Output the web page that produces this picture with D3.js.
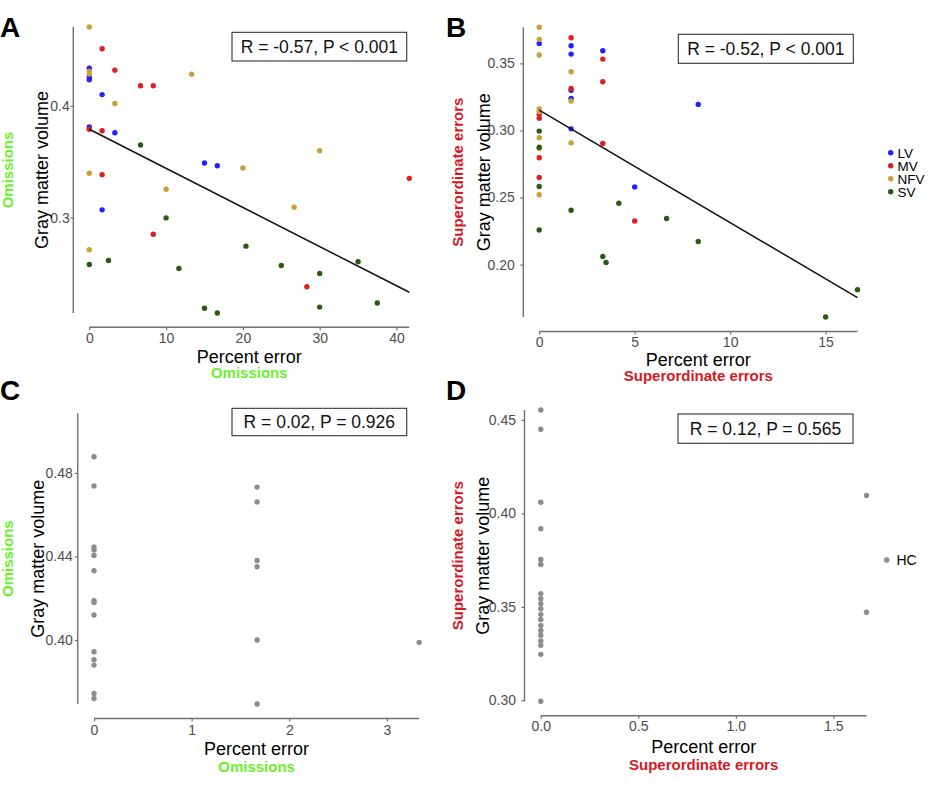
<!DOCTYPE html>
<html><head><meta charset="utf-8">
<script src="https://cdn.jsdelivr.net/npm/d3@7"></script>
<style>
body{margin:0;background:#fff}
svg{display:block}
text{font-family:"Liberation Sans",Arial,Helvetica,sans-serif}
</style>
</head><body>
<svg id="chart" width="949" height="798"></svg>
<script>
// ---------------- DATA ----------------
const groupNames  = ["LV", "MV", "NFV", "SV"];
const groupColors = ["#2121ff", "#dc1f1f", "#c9a03a", "#2b5a15"];
const hcName = "HC";
const hcColor = "#8c8c8c";

// Panel A: Omissions (percent error) vs gray matter volume, patient groups
const omissionsLV  = [[0,0.4337],[0,0.4256],[0,0.4232],[1.67,0.410],[0,0.381],[3.33,0.3759],[15,0.3488],[16.67,0.3464],[1.67,0.3069]];
const omissionsMV  = [[1.67,0.451],[3.33,0.4319],[6.67,0.418],[8.33,0.418],[0,0.379],[1.67,0.3777],[1.67,0.3384],[8.33,0.2851],[41.67,0.3351],[28.33,0.2381]];
const omissionsNFV = [[0,0.4705],[0,0.431],[0,0.4285],[13.33,0.4283],[3.33,0.402],[0,0.3396],[10,0.3253],[0,0.2712],[20,0.3444],[30,0.3598],[26.67,0.3092]];
const omissionsSV  = [[6.67,0.3649],[10,0.2997],[0,0.258],[2.5,0.2616],[11.67,0.2545],[15,0.2188],[16.67,0.2146],[20.4,0.2744],[25,0.2571],[30,0.250],[35,0.2604],[30,0.2199],[37.5,0.2235]];

// Panel B: Superordinate errors vs gray matter volume, patient groups
const superordLV  = [[0,0.3649],[1.67,0.3631],[1.67,0.3569],[1.67,0.330],[1.67,0.3239],[1.67,0.3012],[3.33,0.3594],[5,0.2579],[8.33,0.3194]];
const superordMV  = [[0,0.3119],[0,0.309],[0,0.2796],[0,0.2649],[1.67,0.3691],[1.67,0.3313],[3.33,0.3532],[3.33,0.3363],[3.33,0.2903],[5,0.2325]];
const superordNFV = [[0,0.3769],[0,0.3679],[0,0.3562],[0,0.3161],[0,0.314],[0,0.2945],[0,0.2865],[0,0.252],[1.67,0.3437],[1.67,0.3219],[1.67,0.2907]];
const superordSV  = [[0,0.2995],[0,0.2875],[0,0.2582],[0,0.2258],[1.67,0.2405],[3.33,0.206],[3.5,0.2015],[4.17,0.2457],[6.67,0.2343],[8.33,0.2172],[15,0.1609],[16.67,0.1813]];

// Panel C: Omissions, healthy controls
const hcOmissions = [[0,0.4877],[0,0.4737],[0,0.4445],[0,0.4431],[0,0.4405],[0,0.4332],[0,0.4188],[0,0.418],[0,0.412],[0,0.3944],[0,0.3906],[0,0.388],[0,0.3744],[0,0.372],
                     [1.67,0.4732],[1.67,0.4661],[1.67,0.4381],[1.67,0.4351],[1.67,0.4000],[1.67,0.3694],[3.33,0.3989]];
// Panel D: Superordinate errors, healthy controls
const hcSuperord = [[0,0.4553],[0,0.445],[0,0.406],[0,0.3918],[0,0.3753],[0,0.3727],[0,0.3571],[0,0.3544],[0,0.3517],[0,0.349],[0,0.346],[0,0.3432],[0,0.3401],[0,0.3374],[0,0.3348],[0,0.3317],[0,0.3294],[0,0.3246],[0,0.2995],
                    [1.67,0.4096],[1.67,0.3471]];

// Tick values
const xTicksA = [0,10,20,30,40],   yTicksA = [0.3,0.4];
const xTicksB = [0,5,10,15],       yTicksB = [0.20,0.25,0.30,0.35];
const xTicksC = [0,1,2,3],         yTicksC = [0.40,0.44,0.48];
const xTicksD = [0,0.5,1.0,1.5],   yTicksD = [0.30,0.35,0.40,0.45];

// Correlation annotations and their y positions (data units)
const statTexts  = ["R = -0.57, P < 0.001", "R = -0.52, P < 0.001", "R = 0.02, P = 0.926", "R = 0.12, P = 0.565"];
const statLabelY = [0.453, 0.361, 0.5085, 0.445];

// Linear fits [intercept, slope]
const fitA = [0.379, -0.0035];
const fitB = [0.3151, -0.00838];

const xTitle = "Percent error";
const yTitle = "Gray matter volume";
const subOmissions = "Omissions";
const subSuperord = "Superordinate errors";
const greenSub = "#6cf02c";
const redSub = "#d7191f";

// ---------------- LAYOUT ----------------
const svg = d3.select("#chart");

const panels = [
  { letter:"A", letterPos:[0,37],
    series: groupNames.map((g,i)=>({color:groupColors[i], pts:[omissionsLV,omissionsMV,omissionsNFV,omissionsSV][i]})),
    xTicks:xTicksA, yTicks:yTicksA, xFmt:d3.format("d"), yFmt:d3.format(".1f"),
    fit:fitA, stat:0, sub:subOmissions, subColor:greenSub,
    rect:{l:73.3,r:425.3,t:12.7,b:327.3},
    yTitleX:48, ySubX:13, xTitleY:362.5, xSubY:378, yGap:0.5, xLabY:15.5,
    box:[232,32.3,406.7,61] },
  { letter:"B", letterPos:[446,37],
    series: groupNames.map((g,i)=>({color:groupColors[i], pts:[superordLV,superordMV,superordNFV,superordSV][i]})),
    xTicks:xTicksB, yTicks:yTicksB, xFmt:d3.format("d"), yFmt:d3.format(".2f"),
    fit:fitB, stat:1, sub:subSuperord, subColor:redSub,
    rect:{l:523.3,r:873.4,t:12.8,b:331.5},
    yTitleX:490, ySubX:462.5, xTitleY:366, xSubY:380.5, yGap:5.5, xLabY:15,
    box:[678.3,34.3,853.3,63.3] },
  { letter:"C", letterPos:[0,400],
    series:[{color:hcColor, pts:hcOmissions}],
    xTicks:xTicksC, yTicks:yTicksC, xFmt:d3.format("d"), yFmt:d3.format(".2f"),
    fit:null, stat:2, sub:subOmissions, subColor:greenSub,
    rect:{l:77.75,r:435.4,t:398.8,b:718.5},
    yTitleX:43.5, ySubX:13, xTitleY:755, xSubY:771.5, yGap:2, xLabY:16.5,
    box:[232,408.3,406.7,435.7] },
  { letter:"D", letterPos:[446,400],
    series:[{color:hcColor, pts:hcSuperord}],
    xTicks:xTicksD, yTicks:yTicksD, xFmt:d3.format(".1f"), yFmt:d3.format(".2f"),
    fit:null, stat:3, sub:subSuperord, subColor:redSub,
    rect:{l:524.5,r:882.8,t:395.5,b:715.8},
    yTitleX:488.5, ySubX:462.5, xTitleY:753, xSubY:770, yGap:5.5, xLabY:15.5,
    box:[678,414,853,443.3] }
];

const axisColor = "#707070";
const tickTextColor = "#4d4d4d";

panels.forEach(p => {
  const g = svg.append("g");
  const all = p.series.flatMap(s => s.pts);
  const xe = d3.extent(all, d => d[0]);
  const ye = d3.extent(all.map(d => d[1]).concat([statLabelY[p.stat]]));
  const xpad = (xe[1]-xe[0])*0.05, ypad = (ye[1]-ye[0])*0.05;
  const x = d3.scaleLinear().domain([xe[0]-xpad, xe[1]+xpad]).range([p.rect.l, p.rect.r]);
  const y = d3.scaleLinear().domain([ye[0]-ypad, ye[1]+ypad]).range([p.rect.b, p.rect.t]);

  // axis lines (range frame)
  g.append("line").attr("x1", x(xe[0])).attr("x2", x(xe[1]))
    .attr("y1", p.rect.b).attr("y2", p.rect.b)
    .attr("stroke", axisColor).attr("stroke-width", 1.4);
  g.append("line").attr("x1", p.rect.l).attr("x2", p.rect.l)
    .attr("y1", y(ye[0])).attr("y2", y(ye[1]))
    .attr("stroke", axisColor).attr("stroke-width", 1.4);

  // x axis ticks
  const xa = g.append("g").attr("transform", `translate(0,${p.rect.b})`)
    .call(d3.axisBottom(x).tickValues(p.xTicks).tickFormat(p.xFmt).tickSize(3).tickSizeOuter(0));
  xa.select(".domain").remove();
  xa.selectAll(".tick line").attr("stroke", axisColor).attr("stroke-width", 1.2);
  xa.selectAll(".tick text").attr("y", p.xLabY).attr("dy", null)
    .attr("fill", tickTextColor).style("font-size", "14px")
    .style("font-family", "'Liberation Sans',Arial,sans-serif");

  // y axis ticks
  const ya = g.append("g").attr("transform", `translate(${p.rect.l},0)`)
    .call(d3.axisLeft(y).tickValues(p.yTicks).tickFormat(p.yFmt).tickSize(3).tickSizeOuter(0).tickPadding(p.yGap));
  ya.select(".domain").remove();
  ya.selectAll(".tick line").attr("stroke", axisColor).attr("stroke-width", 1.2);
  ya.selectAll(".tick text").attr("fill", tickTextColor).style("font-size", "14px")
    .style("font-family", "'Liberation Sans',Arial,sans-serif");

  // points
  p.series.forEach(s => {
    g.selectAll(null).data(s.pts).enter().append("circle")
      .attr("cx", d => x(d[0])).attr("cy", d => y(d[1]))
      .attr("r", 2.7).attr("fill", s.color);
  });

  // regression line
  if (p.fit) {
    const lineData = [xe[0], xe[1]].map(v => [v, p.fit[0] + p.fit[1]*v]);
    g.append("path").attr("d", d3.line().x(d => x(d[0])).y(d => y(d[1]))(lineData))
      .attr("stroke", "#111").attr("stroke-width", 1.5).attr("fill", "none");
  }

  // stat box
  const [bx0, by0, bx1, by1] = p.box;
  g.append("rect").attr("x", bx0).attr("y", by0).attr("width", bx1-bx0).attr("height", by1-by0)
    .attr("fill", "#fff").attr("stroke", "#333").attr("stroke-width", 1.1);
  g.append("text").attr("x", (bx0+bx1)/2).attr("y", (by0+by1)/2 + 6)
    .attr("text-anchor", "middle").style("font-size", "17.5px").attr("fill", "#111")
    .text(statTexts[p.stat]);

  // titles
  const cx = (p.rect.l + p.rect.r)/2, cy = (p.rect.t + p.rect.b)/2;
  g.append("text").attr("x", cx).attr("y", p.xTitleY).attr("text-anchor", "middle")
    .style("font-size", "18px").attr("fill", "#000").text(xTitle);
  g.append("text").attr("x", cx).attr("y", p.xSubY).attr("text-anchor", "middle")
    .style("font-size", "15px").style("font-weight", "bold").attr("fill", p.subColor).text(p.sub);
  g.append("text").attr("transform", `translate(${p.yTitleX},${cy}) rotate(-90)`)
    .attr("text-anchor", "middle").style("font-size", "18px").attr("fill", "#000").text(yTitle);
  g.append("text").attr("transform", `translate(${p.ySubX},${cy}) rotate(-90)`)
    .attr("text-anchor", "middle").style("font-size", "15px").style("font-weight", "bold")
    .attr("fill", p.subColor).text(p.sub);

  // panel letter
  g.append("text").attr("x", p.letterPos[0]).attr("y", p.letterPos[1])
    .style("font-size", "28px").style("font-weight", "bold").attr("fill", "#000").text(p.letter);
});

// Legend for patient groups
const leg = svg.append("g");
groupNames.forEach((name, i) => {
  const ly = 152.7 + i*13;
  leg.append("circle").attr("cx", 890.7).attr("cy", ly).attr("r", 2.7).attr("fill", groupColors[i]);
  leg.append("text").attr("x", 897.5).attr("y", ly + 5).style("font-size", "13.5px").attr("fill", "#000").text(name);
});
// Legend for healthy controls
svg.append("circle").attr("cx", 886.7).attr("cy", 560).attr("r", 2.7).attr("fill", hcColor);
svg.append("text").attr("x", 896.5).attr("y", 565).style("font-size", "14px").attr("fill", "#000").text(hcName);
</script>
</body></html>
